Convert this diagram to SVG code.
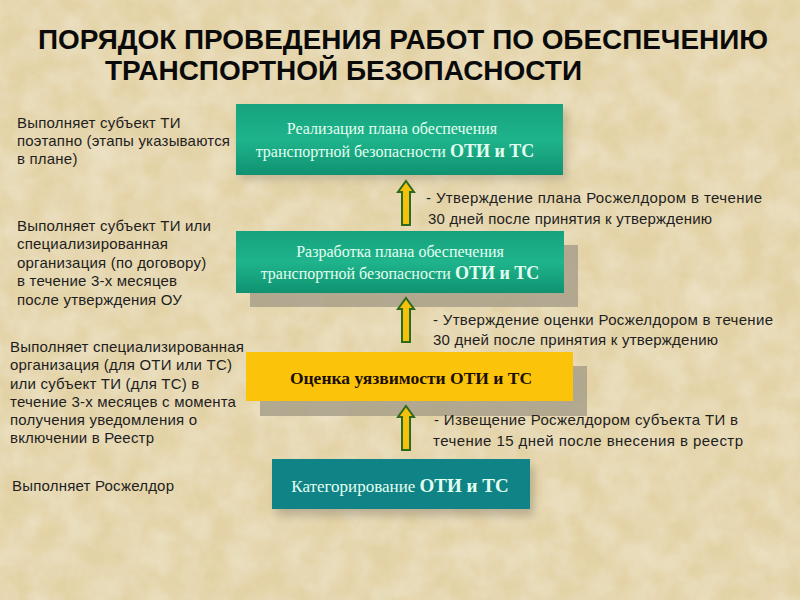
<svg xmlns="http://www.w3.org/2000/svg" width="800" height="600" viewBox="0 0 800 600">
<defs>
<filter id="tex" x="0" y="0" width="100%" height="100%">
<feTurbulence type="fractalNoise" baseFrequency="0.035" numOctaves="4" seed="3" result="n"/>
<feColorMatrix in="n" type="matrix" values="0 0 0 0 0.84  0 0 0 0 0.77  0 0 0 0 0.58  0 0 0 -1.3 0.95" result="c"/>
<feComposite in="c" in2="SourceGraphic" operator="over"/>
</filter>
<linearGradient id="grn" x1="0" y1="0" x2="0" y2="1">
<stop offset="0" stop-color="#16a27d"/>
<stop offset="0.5" stop-color="#1fb48b"/>
<stop offset="1" stop-color="#0f9271"/>
</linearGradient>
<filter id="blur" x="-20%" y="-40%" width="140%" height="180%">
<feGaussianBlur stdDeviation="4"/>
</filter>
<symbol id="arrow" viewBox="0 0 18 46" overflow="visible">
<path d="M9 1 L17 12 L13 12 L13 45 L5 45 L5 12 L1 12 Z" fill="#f4c10c" stroke="#2e6a1c" stroke-width="2" stroke-linejoin="miter"/>
</symbol>
</defs>
<style>
.t{font-family:"Liberation Sans",Arial,sans-serif;font-size:15px;fill:#1e1e1e}
.l{letter-spacing:0.2px}
.ttl{font-family:"Liberation Sans Narrow","Liberation Sans",Arial,sans-serif;font-weight:bold;font-size:27px;fill:#0a0a0a}
.bx{font-family:"Liberation Serif","Times New Roman",serif;font-size:16px;fill:#e4fff2}
.b{font-weight:bold;font-size:18px}
.shadow{fill:#a8a08a;opacity:0.85}
</style>
<rect width="800" height="600" fill="#e3d2a5"/>
<rect width="800" height="600" fill="#e3d2a5" filter="url(#tex)"/>

<g id="title">
<text class="ttl" x="38" y="49" textLength="730" lengthAdjust="spacingAndGlyphs">ПОРЯДОК  ПРОВЕДЕНИЯ  РАБОТ  ПО  ОБЕСПЕЧЕНИЮ</text>
<text class="ttl" x="105" y="80" textLength="477" lengthAdjust="spacingAndGlyphs">ТРАНСПОРТНОЙ    БЕЗОПАСНОСТИ</text>
</g>

<g id="node-realization">
<rect x="240" y="110" width="327" height="70" fill="#8a8270" opacity="0.35" filter="url(#blur)"/>
<rect x="236" y="104" width="327" height="71" fill="url(#grn)"/>
<text class="bx" x="392" y="134" text-anchor="middle">Реализация плана обеспечения</text>
<text class="bx" x="395" y="157" text-anchor="middle">транспортной безопасности <tspan class="b">ОТИ и ТС</tspan></text>
</g>

<g id="node-development">
<rect class="shadow" x="250" y="245" width="328" height="62"/>
<rect x="236" y="231" width="328" height="62" fill="url(#grn)"/>
<text class="bx" x="400" y="257" text-anchor="middle">Разработка плана обеспечения</text>
<text class="bx" x="400" y="279" text-anchor="middle">транспортной безопасности <tspan class="b">ОТИ и ТС</tspan></text>
</g>

<g id="node-assessment">
<rect class="shadow" x="260" y="366" width="327" height="50"/>
<rect x="246" y="352" width="327" height="49" fill="#fcc30b"/>
<text class="bx" x="411" y="384" text-anchor="middle" style="fill:#1a0f05;font-weight:bold;font-size:17.5px">Оценка уязвимости ОТИ и ТС</text>
</g>

<g id="node-categorization">
<rect x="276" y="466" width="258" height="50" fill="#8a8270" opacity="0.45" filter="url(#blur)"/>
<rect x="272" y="459" width="258" height="50" fill="#0f8385"/>
<text class="bx" x="400" y="492" text-anchor="middle" style="font-size:17px">Категорирование <tspan class="b" style="font-size:19px">ОТИ и ТС</tspan></text>
</g>

<g id="connectors">
<use href="#arrow" x="397" y="180" width="18" height="46"/>
<use href="#arrow" x="397" y="297" width="18" height="46"/>
<use href="#arrow" x="397" y="405" width="18" height="46"/>
</g>

<g id="notes-right">
<text class="t" x="426" y="203" textLength="336" lengthAdjust="spacing">- Утверждение плана Росжелдором в течение</text>
<text class="t" x="428" y="224" textLength="284" lengthAdjust="spacing">30 дней после принятия к утверждению</text>
<text class="t" x="433" y="325" textLength="340" lengthAdjust="spacing">- Утверждение оценки Росжелдором в течение</text>
<text class="t" x="433" y="345" textLength="285" lengthAdjust="spacing">30 дней после принятия к утверждению</text>
<text class="t" x="434" y="425" textLength="304" lengthAdjust="spacing">- Извещение Росжелдором субъекта ТИ в</text>
<text class="t" x="433" y="446" textLength="310" lengthAdjust="spacing">течение 15 дней после внесения в реестр</text>
</g>

<g id="notes-left">
<text class="t l" x="17" y="128">Выполняет субъект ТИ</text>
<text class="t l" x="17" y="146">поэтапно (этапы указываются</text>
<text class="t l" x="17" y="164">в плане)</text>
<text class="t l" x="17" y="231">Выполняет субъект ТИ или</text>
<text class="t l" x="17" y="249">специализированная</text>
<text class="t l" x="17" y="268">организация (по договору)</text>
<text class="t l" x="17" y="286">в течение 3-х месяцев</text>
<text class="t l" x="17" y="305">после утверждения ОУ</text>
<text class="t l" x="10" y="352">Выполняет специализированная</text>
<text class="t l" x="10" y="370">организация (для ОТИ или ТС)</text>
<text class="t l" x="10" y="389">или субъект ТИ (для ТС) в</text>
<text class="t l" x="10" y="407">течение 3-х месяцев с момента</text>
<text class="t l" x="10" y="425">получения уведомления о</text>
<text class="t l" x="10" y="443">включении в Реестр</text>
<text class="t l" x="12" y="491">Выполняет Росжелдор</text>
</g>
</svg>
